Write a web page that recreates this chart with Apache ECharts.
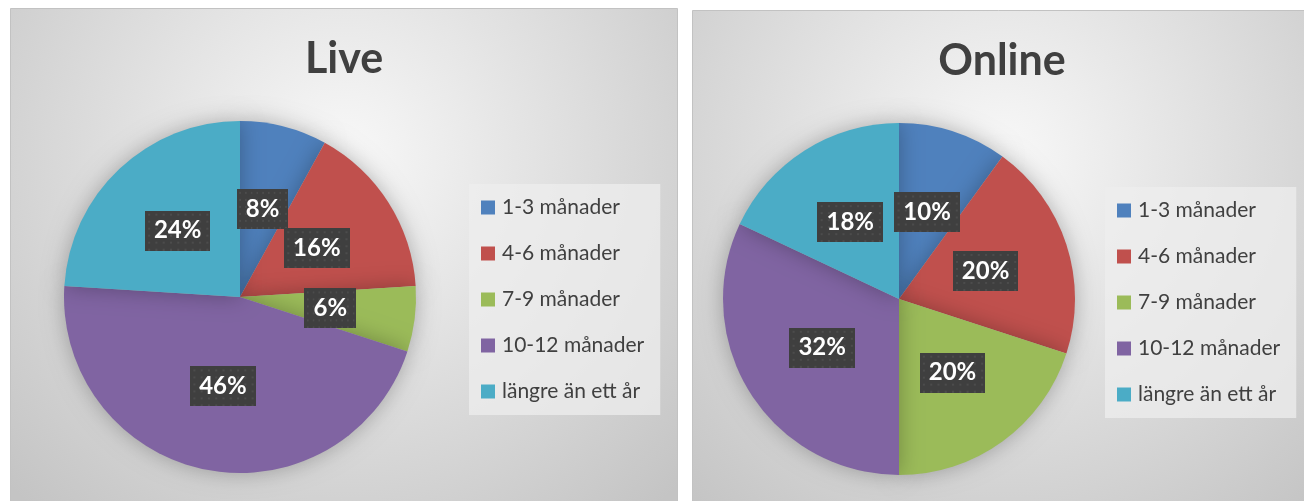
<!DOCTYPE html>
<html><head><meta charset="utf-8">
<script src="https://cdn.jsdelivr.net/npm/echarts@6/dist/echarts.min.js"></script>
<style>html,body{margin:0;padding:0;background:#fff}#c{width:1304px;height:501px}</style>
</head><body><div id="c"></div>
<script>
const categories = ['1-3 månader','4-6 månader','7-9 månader','10-12 månader','längre än ett år'];
const liveValues = [8, 16, 6, 46, 24];
const onlineValues = [10, 20, 20, 32, 18];
const titles = ['Live', 'Online'];
const colors = ['#4F81BD','#C0504D','#9BBB59','#8064A2','#4BACC6'];

const FONT = 'Lato, "Open Sans", sans-serif';
const chart = echarts.init(document.getElementById('c'), null, {renderer:'canvas'});

// dotted dark texture for the data-label boxes
const tex = document.createElement('canvas');
tex.width = 63; tex.height = 40;
(function () {
  const g = tex.getContext('2d');
  g.fillStyle = '#3f3f3f';
  g.fillRect(0, 0, tex.width, tex.height);
  g.fillStyle = '#4c4c4c';
  for (let y = 3; y < tex.height; y += 7) {
    for (let x = 3; x < tex.width; x += 7) g.fillRect(x, y, 2, 2);
  }
})();

function panelBg(x, y, w, h) {
  return {
    type: 'rect', z: -10, silent: true,
    shape: {x: x, y: y, width: w, height: h},
    style: {
      fill: new echarts.graphic.RadialGradient(0.5, 0.3, 0.95, [
        {offset: 0, color: '#f8f8f8'},
        {offset: 1, color: '#c4c4c4'}
      ]),
      stroke: '#c2c2c2', lineWidth: 1
    }
  };
}

function pieSeries(values, center) {
  return {
    type: 'pie',
    radius: 176,
    center: center,
    startAngle: 90,
    clockwise: true,
    avoidLabelOverlap: false,
    minShowLabelAngle: 0,
    data: categories.map((n, i) => ({name: n, value: values[i]})),
    itemStyle: {shadowBlur: 22, shadowColor: 'rgba(0,0,0,0.28)'},
    emphasis: {disabled: true},
    label: {
      show: true,
      position: 'inside',
      formatter: '{c}%',
      color: '#ffffff',
      fontFamily: FONT,
      fontWeight: 'bold',
      fontSize: 24,
      lineHeight: 24,
      backgroundColor: {image: tex},
      padding: [8, 9, 8, 9],
      shadowBlur: 5,
      shadowOffsetX: 2,
      shadowOffsetY: 3,
      shadowColor: 'rgba(0,0,0,0.45)'
    },
    labelLayout: {hideOverlap: false},
    labelLine: {show: false}
  };
}

function legend(left, top) {
  return {
    orient: 'vertical',
    left: left, top: top,
    itemWidth: 14, itemHeight: 14,
    itemGap: 25,
    padding: [13, 16, 13, 12],
    backgroundColor: 'rgba(238,238,238,0.75)',
    icon: 'rect',
    selectedMode: false,
    textStyle: {color: '#404040', fontFamily: FONT, fontSize: 21, lineHeight: 20, padding: [0, 0, 0, 2]},
    data: categories
  };
}

chart.setOption({
  animation: false,
  color: colors,
  graphic: [panelBg(10.5, 8.5, 667, 493), panelBg(692.5, 10.5, 620, 491)],
  title: [
    {text: titles[0], left: 339, top: 33, textAlign: 'center',
     textStyle: {fontFamily: FONT, fontWeight: 'bold', fontSize: 43, color: '#404040'}},
    {text: titles[1], left: 997, top: 35, textAlign: 'center',
     textStyle: {fontFamily: FONT, fontWeight: 'bold', fontSize: 43, color: '#404040'}}
  ],
  legend: [legend(469, 184), legend(1105, 187)],
  series: [
    pieSeries(liveValues, [240, 297]),
    pieSeries(onlineValues, [899, 299])
  ]
});
</script></body></html>
